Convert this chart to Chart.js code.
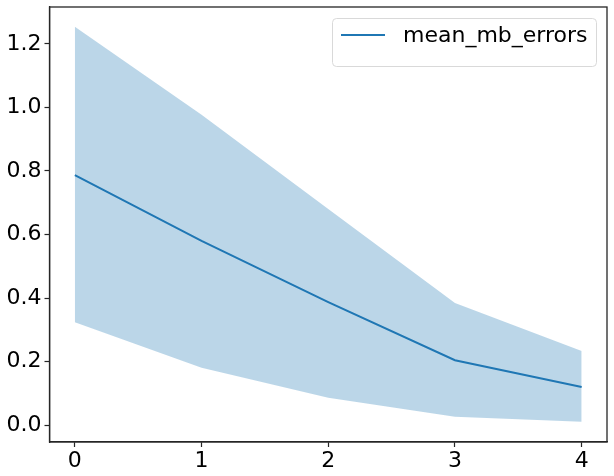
<!DOCTYPE html>
<html>
<head>
<meta charset="utf-8">
<script src="https://cdn.jsdelivr.net/npm/chart.js@4/dist/chart.umd.min.js"></script>
<style>
html,body{margin:0;padding:0;background:#fff;}
#wrap{width:614px;height:476px;}
</style>
</head>
<body>
<div id="wrap"><canvas id="c" width="614" height="476"></canvas></div>
<script>
const steps = [0, 1, 2, 3, 4];
const meanErrors = [0.787, 0.580, 0.387, 0.204, 0.120];
const upperBand = [1.254, 0.977, 0.680, 0.384, 0.233];
const lowerBand = [0.324, 0.180, 0.086, 0.026, 0.010];
const xTicks = [0, 1, 2, 3, 4];
const yTicks = [0.0, 0.2, 0.4, 0.6, 0.8, 1.0, 1.2];
const seriesLabel = 'mean_mb_errors';

const lineColor = '#1f77b4';
const fillColor = 'rgba(31,119,180,0.3)';
const FONT = 'DejaVu Sans';

const toXY = (arr) => steps.map((x, i) => ({x: x, y: arr[i]}));

const frameLegend = {
  id: 'frameLegend',
  afterDraw(chart) {
    const ctx = chart.ctx;
    const a = chart.chartArea;
    ctx.save();
    ctx.strokeStyle = '#262626';
    ctx.lineWidth = 1.3;
    ctx.strokeRect(a.left, a.top, a.right - a.left, a.bottom - a.top);
    // legend
    const bx = 332.5, by = 18.5, bw = 264, bh = 48, r = 4;
    ctx.fillStyle = 'rgba(255,255,255,0.8)';
    ctx.strokeStyle = '#d9d9d9';
    ctx.lineWidth = 1;
    ctx.beginPath();
    ctx.moveTo(bx + r, by);
    ctx.lineTo(bx + bw - r, by);
    ctx.quadraticCurveTo(bx + bw, by, bx + bw, by + r);
    ctx.lineTo(bx + bw, by + bh - r);
    ctx.quadraticCurveTo(bx + bw, by + bh, bx + bw - r, by + bh);
    ctx.lineTo(bx + r, by + bh);
    ctx.quadraticCurveTo(bx, by + bh, bx, by + bh - r);
    ctx.lineTo(bx, by + r);
    ctx.quadraticCurveTo(bx, by, bx + r, by);
    ctx.closePath();
    ctx.fill();
    ctx.stroke();
    ctx.strokeStyle = lineColor;
    ctx.lineWidth = 2;
    ctx.beginPath();
    ctx.moveTo(341, 35);
    ctx.lineTo(385, 35);
    ctx.stroke();
    ctx.fillStyle = '#000';
    ctx.font = '22px "' + FONT + '"';
    ctx.textBaseline = 'middle';
    ctx.textAlign = 'left';
    ctx.fillText(chart.data.datasets[2].label, 403, 36);
    ctx.restore();
  }
};

new Chart(document.getElementById('c'), {
  type: 'line',
  data: {
    datasets: [
      {label: 'upper', data: toXY(upperBand), borderWidth: 0, pointRadius: 0, fill: '+1', backgroundColor: fillColor, borderColor: 'rgba(0,0,0,0)', order: 2},
      {label: 'lower', data: toXY(lowerBand), borderWidth: 0, pointRadius: 0, fill: false, borderColor: 'rgba(0,0,0,0)', order: 2},
      {label: seriesLabel, data: toXY(meanErrors), borderWidth: 2, pointRadius: 0, fill: false, borderColor: lineColor, order: 1}
    ]
  },
  options: {
    responsive: false,
    animation: false,
    devicePixelRatio: 1,
    layout: {padding: {top: 7, right: 7, left: 0, bottom: 0}},
    plugins: {legend: {display: false}, tooltip: {enabled: false}},
    elements: {line: {tension: 0}},
    scales: {
      x: {
        type: 'linear',
        min: -0.2, max: 4.2,
        afterBuildTicks: (s) => { s.ticks = xTicks.map(v => ({value: v})); },
        afterFit: (s) => { s.height = 34; s.paddingLeft = 0; s.paddingRight = 0; },
        ticks: {color: '#000', font: {family: FONT, size: 22}, padding: 1, maxRotation: 0, callback: (v) => String(v)},
        grid: {drawOnChartArea: false, drawTicks: true, tickLength: 5, color: '#262626', tickWidth: 1.2},
        border: {display: true, color: '#262626', width: 1.3}
      },
      y: {
        type: 'linear',
        min: -0.0535, max: 1.3165,
        afterBuildTicks: (s) => { s.ticks = yTicks.map(v => ({value: v})); },
        afterFit: (s) => { s.width = 49.5; s.paddingTop = 0; s.paddingBottom = 0; },
        ticks: {color: '#000', font: {family: FONT, size: 22}, padding: 3, callback: (v) => Number(v).toFixed(1)},
        grid: {drawOnChartArea: false, drawTicks: true, tickLength: 5, color: '#262626', tickWidth: 1.2},
        border: {display: true, color: '#262626', width: 1.3}
      }
    }
  },
  plugins: [frameLegend]
});
</script>
</body>
</html>
